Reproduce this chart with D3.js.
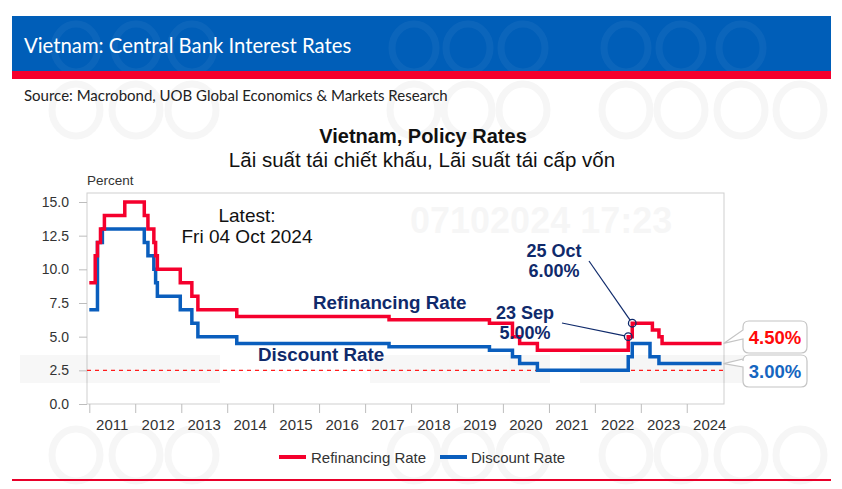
<!DOCTYPE html>
<html>
<head>
<meta charset="utf-8">
<script src="https://cdn.jsdelivr.net/npm/d3@7"></script>
<style>
  html, body { margin: 0; padding: 0; background: #ffffff; }
  svg { display: block; }
</style>
</head>
<body>
<svg id="chart" width="842" height="489"></svg>
<script>
// ---------------- DATA ----------------
const headerTitle = "Vietnam: Central Bank Interest Rates";
const sourceText = "Source: Macrobond, UOB Global Economics & Markets Research";
const chartTitle = "Vietnam, Policy Rates";
const chartSubtitle = "Lãi suất tái chiết khấu, Lãi suất tái cấp vốn";
const yUnit = "Percent";
const latestLines = ["Latest:", "Fri 04 Oct 2024"];
const watermarkText = "07102024 17:23";

const seriesNames = ["Refinancing Rate", "Discount Rate"];

const refiDates = ["2011-01-01","2011-02-17","2011-03-07","2011-03-31","2011-05-01","2011-10-10",
  "2012-03-13","2012-04-11","2012-05-28","2012-06-11","2012-06-25","2012-12-24",
  "2013-03-26","2013-05-13","2014-03-18","2017-07-10","2019-09-16","2020-03-17",
  "2020-05-13","2020-10-01","2022-09-23","2022-10-25","2023-04-03","2023-05-25",
  "2023-06-19","2024-10-04"];
const refiValues = [9,11,12,13,14,15,14,13,12,11,10,9,8,7,6.5,6.25,6,5,4.5,4,5,6,5.5,5,4.5,4.5];

const discDates = ["2011-01-01","2011-03-07","2011-04-15","2012-03-13","2012-04-11","2012-05-28",
  "2012-06-11","2012-06-25","2012-12-24","2013-03-26","2013-05-13","2014-03-18",
  "2017-07-10","2019-09-16","2020-03-17","2020-05-13","2020-10-01","2022-09-23",
  "2022-10-25","2023-03-15","2023-05-25","2024-10-04"];
const discValues = [7,12,13,12,11,10,9,8,7,6,5,4.5,4.25,4,3.5,3,2.5,3.5,4.5,3.5,3,3];

const yTicks = [0, 2.5, 5, 7.5, 10, 12.5, 15];
const yearTicks = [2011,2012,2013,2014,2015,2016,2017,2018,2019,2020,2021,2022,2023,2024];
const thresholdValue = 2.5;

const annotDates = ["2022-10-25", "2022-09-23"];
const annotValues = [6.0, 5.0];
const annotLabels = [["25 Oct", "6.00%"], ["23 Sep", "5.00%"]];

const latestRefi = "4.50%";
const latestDisc = "3.00%";

// ---------------- LAYOUT ----------------
const plot = { left: 87, right: 724, top: 193, bottom: 404 };
const colRed = "#f5002d", colBlue = "#0a5ebd", colNavy = "#0f2a6b";
const chartFont = "'Liberation Sans', Arial, sans-serif";

const parse = d3.utcParse("%Y-%m-%d");
const refi = refiDates.map((d, i) => ({ date: parse(d), value: refiValues[i] }));
const disc = discDates.map((d, i) => ({ date: parse(d), value: discValues[i] }));

const x = d3.scaleUtc()
  .domain([parse("2011-01-01"), parse("2024-10-04")])
  .range([89.3, 721.6]);
const y = d3.scaleLinear().domain([0, 15]).range([404, 202]);

const svg = d3.select("#chart");

// background decoration (faint rings)
const deco = svg.append("g");
const ringXs = [76, 136, 192, 414, 468, 523, 626, 681, 741, 800];
[110, 455].forEach(cy => {
  ringXs.forEach(cx => {
    deco.append("ellipse").attr("cx", cx).attr("cy", cy).attr("rx", 24).attr("ry", 26)
      .attr("fill", "none").attr("stroke", "#f6f6f6").attr("stroke-width", 7);
  });
});

// header
svg.append("rect").attr("x", 12).attr("y", 16).attr("width", 819).attr("height", 55).attr("fill", "#005eb8");
const hdeco = svg.append("g").attr("opacity", 0.045);
ringXs.slice(0, 9).forEach(cx => {
  hdeco.append("ellipse").attr("cx", cx).attr("cy", 48).attr("rx", 22).attr("ry", 24)
    .attr("fill", "none").attr("stroke", "#ffffff").attr("stroke-width", 7);
});
svg.append("rect").attr("x", 12).attr("y", 71).attr("width", 819).attr("height", 8).attr("fill", colRed);
svg.append("text").attr("x", 24).attr("y", 53)
  .attr("font-family", "Lato, 'Open Sans', sans-serif").attr("font-size", 20.3)
  .attr("fill", "#ffffff").text(headerTitle);

svg.append("text").attr("x", 24).attr("y", 101)
  .attr("font-family", "Lato, 'Open Sans', sans-serif").attr("font-size", 15)
  .attr("fill", "#222").text(sourceText);

// chart titles
svg.append("text").attr("x", 423).attr("y", 143).attr("text-anchor", "middle")
  .attr("font-family", chartFont).attr("font-weight", "bold").attr("font-size", 20)
  .attr("fill", "#111").text(chartTitle);
svg.append("text").attr("x", 422).attr("y", 167).attr("text-anchor", "middle")
  .attr("font-family", chartFont).attr("font-size", 20.5)
  .attr("fill", "#111").text(chartSubtitle);

// plot frame
svg.append("rect").attr("x", plot.left).attr("y", plot.top)
  .attr("width", plot.right - plot.left).attr("height", plot.bottom - plot.top)
  .attr("fill", "#ffffff").attr("stroke", "#cfcfcf").attr("stroke-width", 1);

// faint watermark stamp inside the plot
const wm = svg.append("g").attr("font-family", chartFont).attr("font-weight", "bold")
  .attr("font-size", 36).attr("fill", "#000").attr("opacity", 0.03);
wm.append("text").attr("x", 410).attr("y", 233).text(watermarkText);
const wr = svg.append("g").attr("fill", "#000").attr("opacity", 0.03);
[[20, 355, 200], [370, 355, 180], [580, 355, 170]].forEach(r => {
  wr.append("rect").attr("x", r[0]).attr("y", r[1]).attr("width", r[2]).attr("height", 28);
});

// y axis
const yAxis = d3.axisLeft(y).tickValues(yTicks).tickFormat(d3.format(".1f")).tickSize(8).tickPadding(10);
const gy = svg.append("g").attr("transform", `translate(${plot.left},0)`).call(yAxis);
gy.select(".domain").remove();
gy.selectAll("line").attr("stroke", "#bdbdbd");
gy.selectAll("text").attr("font-family", chartFont).attr("font-size", 14).attr("fill", "#333");

svg.append("text").attr("x", plot.left).attr("y", 185)
  .attr("font-family", chartFont).attr("font-size", 13.5).attr("fill", "#333").text(yUnit);

// x axis
const yearDates = yearTicks.map(yr => new Date(Date.UTC(yr, 0, 1)));
const xAxis = d3.axisBottom(x).tickValues(yearDates).tickFormat("").tickSize(9);
const gx = svg.append("g").attr("transform", `translate(0,${plot.bottom})`).call(xAxis);
gx.select(".domain").remove();
gx.selectAll("line").attr("stroke", "#bdbdbd");
svg.append("g").selectAll("text").data(yearTicks).join("text")
  .attr("x", d => x(new Date(Date.UTC(d, 6, 2))))
  .attr("y", 430).attr("text-anchor", "middle")
  .attr("font-family", chartFont).attr("font-size", 15).attr("fill", "#333")
  .text(d => d);

// threshold dashed line
svg.append("line").attr("x1", plot.left).attr("x2", plot.right)
  .attr("y1", y(thresholdValue)).attr("y2", y(thresholdValue))
  .attr("stroke", "#ff1a1a").attr("stroke-width", 1.2).attr("stroke-dasharray", "4,4");

// lines
const line = d3.line().x(d => x(d.date)).y(d => y(d.value)).curve(d3.curveStepAfter);
svg.append("path").datum(disc).attr("d", line).attr("fill", "none")
  .attr("stroke", colBlue).attr("stroke-width", 3.5);
svg.append("path").datum(refi).attr("d", line).attr("fill", "none")
  .attr("stroke", colRed).attr("stroke-width", 3.5);

// latest text
svg.append("text").attr("x", 247).attr("y", 222).attr("text-anchor", "middle")
  .attr("font-family", chartFont).attr("font-size", 19).attr("fill", "#111").text(latestLines[0]);
svg.append("text").attr("x", 247).attr("y", 243).attr("text-anchor", "middle")
  .attr("font-family", chartFont).attr("font-size", 19).attr("fill", "#111").text(latestLines[1]);

// series labels
svg.append("text").attr("x", 313).attr("y", 309)
  .attr("font-family", chartFont).attr("font-weight", "bold").attr("font-size", 18.8)
  .attr("fill", colNavy).text(seriesNames[0]);
svg.append("text").attr("x", 258).attr("y", 361)
  .attr("font-family", chartFont).attr("font-weight", "bold").attr("font-size", 18.8)
  .attr("fill", colNavy).text(seriesNames[1]);

// annotations
const annPos = [
  { tx: 554, ty1: 257, ty2: 277, lx: 589, ly: 261 },
  { tx: 525, ty1: 319, ty2: 339, lx: 562, ly: 323 }
];
annotDates.forEach((d, i) => {
  const cx = x(parse(d)), cy = y(annotValues[i]);
  const p = annPos[i];
  const ang = Math.atan2(cy - p.ly, cx - p.lx);
  svg.append("line").attr("x1", p.lx).attr("y1", p.ly)
    .attr("x2", cx - 3.5 * Math.cos(ang)).attr("y2", cy - 3.5 * Math.sin(ang))
    .attr("stroke", colNavy).attr("stroke-width", 1.2);
  svg.append("circle").attr("cx", cx).attr("cy", cy).attr("r", 3.8)
    .attr("fill", "none").attr("stroke", colNavy).attr("stroke-width", 1.3);
  svg.append("text").attr("x", p.tx).attr("y", p.ty1).attr("text-anchor", "middle")
    .attr("font-family", chartFont).attr("font-weight", "bold").attr("font-size", 18)
    .attr("fill", colNavy).text(annotLabels[i][0]);
  svg.append("text").attr("x", p.tx).attr("y", p.ty2).attr("text-anchor", "middle")
    .attr("font-family", chartFont).attr("font-weight", "bold").attr("font-size", 18)
    .attr("fill", colNavy).text(annotLabels[i][1]);
});

// right callouts
function callout(tipX, tipY, bx, by, bw, bh, b1, b2, label, color) {
  const r = 6;
  const p = d3.path();
  p.moveTo(bx + r, by);
  p.lineTo(bx + bw - r, by);
  p.quadraticCurveTo(bx + bw, by, bx + bw, by + r);
  p.lineTo(bx + bw, by + bh - r);
  p.quadraticCurveTo(bx + bw, by + bh, bx + bw - r, by + bh);
  p.lineTo(bx + r, by + bh);
  p.quadraticCurveTo(bx, by + bh, bx, by + bh - r);
  p.lineTo(bx, b2);
  p.lineTo(tipX, tipY);
  p.lineTo(bx, b1);
  p.lineTo(bx, by + r);
  p.quadraticCurveTo(bx, by, bx + r, by);
  p.closePath();
  svg.append("path").attr("d", p.toString()).attr("fill", "#ffffff")
    .attr("stroke", "#c4c4c4").attr("stroke-width", 1.2);
  svg.append("text").attr("x", bx + bw / 2).attr("y", by + bh / 2 + 6.5).attr("text-anchor", "middle")
    .attr("font-family", chartFont).attr("font-weight", "bold").attr("font-size", 18.5)
    .attr("fill", color).text(label);
}
const lastR = refi[refi.length - 1], lastD = disc[disc.length - 1];
callout(x(lastR.date) + 2, y(lastR.value), 743, 321, 64, 32, 330, 339, latestRefi, "#ff0a0a");
callout(x(lastD.date) + 2, y(lastD.value), 743, 355, 64, 32, 359, 367, latestDisc, "#1565c0");

// legend
const leg = svg.append("g").attr("font-family", chartFont).attr("font-size", 15).attr("fill", "#333");
leg.append("rect").attr("x", 279).attr("y", 455).attr("width", 27).attr("height", 4).attr("fill", colRed);
leg.append("text").attr("x", 311).attr("y", 462.5).text(seriesNames[0]);
leg.append("rect").attr("x", 440).attr("y", 455).attr("width", 27).attr("height", 4).attr("fill", colBlue);
leg.append("text").attr("x", 471).attr("y", 462.5).text(seriesNames[1]);

// bottom rule
svg.append("rect").attr("x", 12).attr("y", 479).attr("width", 819).attr("height", 2).attr("fill", "#e8002a");
</script>
</body>
</html>
